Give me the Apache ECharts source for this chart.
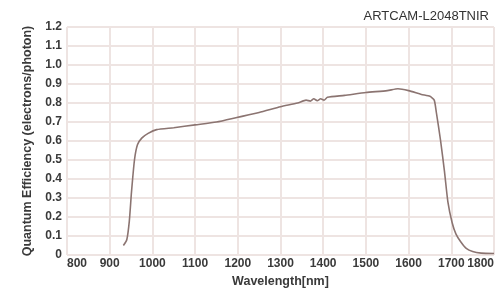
<!DOCTYPE html>
<html>
<head>
<meta charset="utf-8">
<script src="https://cdn.jsdelivr.net/npm/echarts@6/dist/echarts.min.js"></script>
<style>
  html, body { margin: 0; padding: 0; background: #fff; }
  #chart { width: 500px; height: 289px; }
</style>
</head>
<body>
<div id="chart"></div>
<script>
// 波长 (nm) 与量子效率
const wavelength = [932, 940, 946, 951, 958, 965, 975, 990, 1010, 1050, 1100, 1150, 1200, 1250, 1300, 1340,
  1360, 1370, 1378, 1386, 1394, 1402, 1410, 1450, 1500, 1550, 1575, 1600, 1630, 1650, 1660,
  1665, 1675, 1684, 1692, 1702, 1711, 1722, 1735, 1750, 1770, 1800];
const qe = [0.05, 0.08, 0.18, 0.33, 0.50, 0.58, 0.615, 0.64, 0.66, 0.67, 0.685, 0.70, 0.725, 0.75, 0.78, 0.80,
  0.815, 0.81, 0.822, 0.812, 0.822, 0.815, 0.83, 0.84, 0.855, 0.865, 0.875, 0.865, 0.845, 0.835, 0.815,
  0.75, 0.60, 0.44, 0.28, 0.17, 0.11, 0.07, 0.035, 0.018, 0.01, 0.008];
const xTicks = [800, 900, 1000, 1100, 1200, 1300, 1400, 1500, 1600, 1700, 1800];
const yTicks = [0, 0.1, 0.2, 0.3, 0.4, 0.5, 0.6, 0.7, 0.8, 0.9, 1.0, 1.1, 1.2];

const points = wavelength.map((w, i) => [w, qe[i]]);
const labelFont = { color: '#3a3a3a', fontSize: 12, fontFamily: 'Liberation Sans' };

let myChart = echarts.init(document.getElementById('chart'));
myChart.setOption({
  backgroundColor: '#fff',
  animation: false,
  title: {
    text: 'ARTCAM-L2048TNIR',
    right: 6,
    top: 5,
    textStyle: { color: '#333', fontSize: 13, fontWeight: 'normal', fontFamily: 'Liberation Sans' }
  },
  grid: {
    left: 67, right: 6, top: 27, bottom: 34,
    outerBoundsMode: 'none',
    show: true, borderColor: '#d9cdca', borderWidth: 1
  },
  xAxis: {
    type: 'value',
    min: xTicks[0], max: xTicks[xTicks.length - 1], interval: 100,
    name: 'Wavelength[nm]',
    nameLocation: 'middle', nameGap: 15,
    nameTextStyle: Object.assign({}, labelFont, { fontWeight: 'bold', fontSize: 12.5 }),
    axisLine: { show: false },
    axisTick: { show: false },
    axisLabel: Object.assign({}, labelFont, {
      margin: 3, fontWeight: 'bold', formatter: v => String(v),
      alignMinLabel: 'left', alignMaxLabel: 'right'
    }),
    splitLine: { show: true, lineStyle: { color: '#eee4e2', width: 2 } }
  },
  yAxis: {
    type: 'value',
    min: 0, max: yTicks[yTicks.length - 1], interval: 0.1,
    name: 'Quantum Efficiency (electrons/photon)',
    nameLocation: 'middle', nameGap: 31, nameRotate: 90,
    nameTextStyle: Object.assign({}, labelFont, { fontWeight: 'bold', fontSize: 12.5 }),
    axisLine: { show: false },
    axisTick: { show: false },
    axisLabel: Object.assign({}, labelFont, {
      margin: 5, fontWeight: 'bold',
      formatter: v => (v === 0 ? '0' : v.toFixed(1))
    }),
    splitLine: { show: true, lineStyle: { color: '#eee4e2', width: 2 } }
  },
  series: [{
    type: 'line',
    data: points,
    smooth: 0.2,
    showSymbol: false,
    lineStyle: { color: '#8b7471', width: 1.6 }
  }]
});
</script>
</body>
</html>
